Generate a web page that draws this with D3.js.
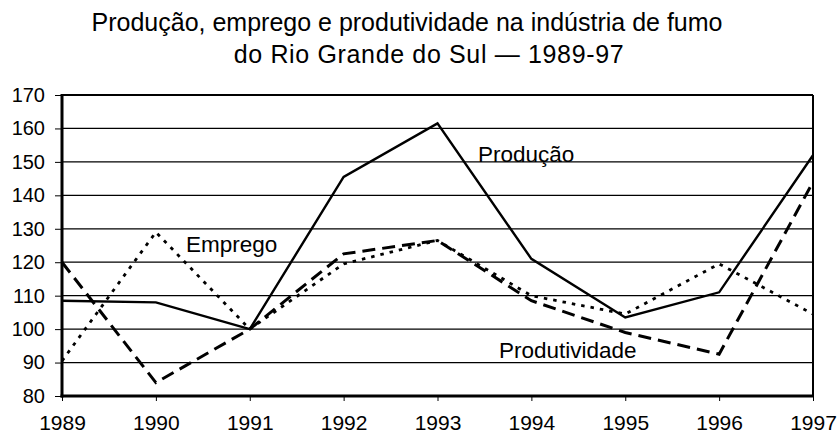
<!DOCTYPE html>
<html>
<head>
<meta charset="utf-8">
<script src="https://cdn.jsdelivr.net/npm/d3@7"></script>
<style>
  html, body { margin: 0; padding: 0; background: #fff; }
  svg text { font-family: "Liberation Sans", Arial, Helvetica, sans-serif; fill: #000; }
</style>
</head>
<body>
<div id="chart"></div>
<script>
// dados
const years = [1989, 1990, 1991, 1992, 1993, 1994, 1995, 1996, 1997]
const producao = [108.5, 108, 100, 145.5, 161.5, 121, 103.5, 111, 152]
const emprego = [90.5, 129, 100, 119.5, 126.5, 110, 104.5, 119.5, 104.5]
const produtividade = [120, 84, 100, 122.5, 126.5, 108.5, 99, 92.5, 144]
const yTicks = [80, 90, 100, 110, 120, 130, 140, 150, 160, 170]
const titleLines = ['Produção, emprego e produtividade na indústria de fumo', 'do Rio Grande do Sul — 1989-97']

const width = 838
const height = 441
const margin = {top: 95, right: 25, bottom: 45, left: 62}

const svg = d3.select('#chart')
  .append('svg')
  .attr('width', width)
  .attr('height', height)

const x = d3.scaleLinear()
  .domain([years[0], years[years.length - 1]])
  .range([margin.left, width - margin.right])
const y = d3.scaleLinear()
  .domain([80, 170])
  .range([height - margin.bottom, margin.top])

// titulo (a segunda linha fica um pouco deslocada para a direita)
svg.selectAll('.title')
  .data(titleLines)
  .enter()
  .append('text')
  .attr('class', 'title')
  .attr('x', function (d, i) { return i ? 429 : 407 })
  .attr('y', function (d, i) { return 31 + i * 32 })
  .attr('text-anchor', 'middle')
  .attr('font-size', '25px')
  .attr('letter-spacing', function (d, i) { return i ? '0.65px' : null })
  .text(function (d) { return d })

// grade horizontal
svg.append('g')
  .selectAll('line')
  .data(yTicks)
  .enter()
  .append('line')
  .attr('x1', margin.left)
  .attr('x2', width - margin.right)
  .attr('y1', function (d) { return y(d) })
  .attr('y2', function (d) { return y(d) })
  .attr('stroke', '#000')
  .attr('stroke-width', 1.2)

// eixos
const yAxis = svg.append('g')
  .attr('transform', 'translate(' + margin.left + ',0)')
  .call(d3.axisLeft(y).tickValues(yTicks).tickSize(7).tickPadding(10))
yAxis.select('.domain').remove()
yAxis.selectAll('text').attr('font-size', '20px').attr('font-family', null)

const xAxis = svg.append('g')
  .attr('transform', 'translate(0,' + (height - margin.bottom) + ')')
  .call(d3.axisBottom(x).tickValues(years).tickFormat(d3.format('d')).tickSize(5).tickPadding(14))
xAxis.select('.domain').remove()
xAxis.selectAll('text').attr('font-size', '21px').attr('font-family', null)

// moldura
svg.append('line')
  .attr('x1', margin.left).attr('x2', width - margin.right)
  .attr('y1', margin.top).attr('y2', margin.top)
  .attr('stroke', '#000').attr('stroke-width', 2)
svg.append('line')
  .attr('x1', width - margin.right).attr('x2', width - margin.right)
  .attr('y1', margin.top).attr('y2', height - margin.bottom)
  .attr('stroke', '#000').attr('stroke-width', 2)
svg.append('line')
  .attr('x1', margin.left).attr('x2', margin.left)
  .attr('y1', margin.top - 1).attr('y2', height - margin.bottom + 1.5)
  .attr('stroke', '#000').attr('stroke-width', 3)
svg.append('line')
  .attr('x1', margin.left - 1.5).attr('x2', width - margin.right)
  .attr('y1', height - margin.bottom).attr('y2', height - margin.bottom)
  .attr('stroke', '#000').attr('stroke-width', 3)

// linhas
const line = d3.line()
  .x(function (d, i) { return x(years[i]) })
  .y(function (d) { return y(d) })

const series = [
  {name: 'Produção', values: producao, dash: null, w: 2.4},
  {name: 'Emprego', values: emprego, dash: '3.5,6', w: 2.8},
  {name: 'Produtividade', values: produtividade, dash: '13,7', w: 3}
]

svg.selectAll('.serie')
  .data(series)
  .enter()
  .append('path')
  .attr('class', 'serie')
  .attr('d', function (d) { return line(d.values) })
  .attr('fill', 'none')
  .attr('stroke', '#000')
  .attr('stroke-width', function (d) { return d.w })
  .attr('stroke-dasharray', function (d) { return d.dash })
  .attr('stroke-linejoin', 'miter')

// rotulos das series
const labels = [
  {text: 'Emprego', x: 186, y: 252},
  {text: 'Produção', x: 478, y: 162},
  {text: 'Produtividade', x: 499, y: 358}
]
svg.selectAll('.rotulo')
  .data(labels)
  .enter()
  .append('text')
  .attr('class', 'rotulo')
  .attr('x', function (d) { return d.x })
  .attr('y', function (d) { return d.y })
  .attr('font-size', '22.5px')
  .text(function (d) { return d.text })
</script>
</body>
</html>
